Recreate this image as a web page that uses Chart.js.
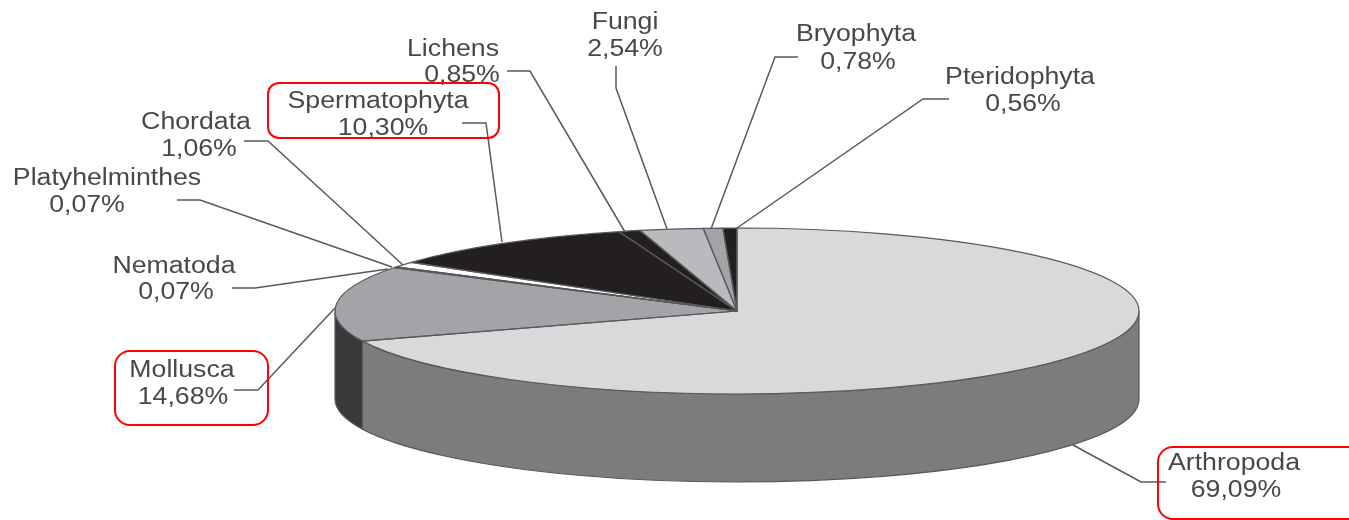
<!DOCTYPE html>
<html>
<head>
<meta charset="utf-8">
<style>
  html, body { margin: 0; padding: 0; background: #fff; overflow: hidden; }
  canvas { display: block; filter: blur(0.5px); }
</style>
<script src="https://cdn.jsdelivr.net/npm/chart.js@4"></script>
</head>
<body>
<canvas id="pie" width="1349" height="520"></canvas>
<script>
const categories = ['Arthropoda', 'Mollusca', 'Nematoda', 'Platyhelminthes', 'Chordata',
  'Spermatophyta', 'Lichens', 'Fungi', 'Bryophyta', 'Pteridophyta'];
const shares = [69.09, 14.68, 0.07, 0.07, 1.06, 10.30, 0.85, 2.54, 0.78, 0.56];
const topColors = ['#d9d9db', '#a3a4a7', '#a3a4a7', '#ffffff', '#ffffff',
  '#231f20', '#231f20', '#b9babd', '#a3a4a7', '#231f20'];
const sideColors = ['#7b7c7e', '#38393b', '#38393b', '#38393b', '#38393b',
  '#231f20', '#231f20', '#7b7c7e', '#7b7c7e', '#231f20'];

// where the tilted pie sits on the page
const tilt = { cx: 737, cy: 311, rx: 402, ry: 83, depth: 88 };
const lineColor = '#58595b';
const textColor = '#48484b';
const textStretch = 1.16; // the source picture is wider than it is tall

// [name x, name baseline, value x, value baseline], same order as categories
const labelPos = [
  [1234, 470, 1236, 497],
  [182, 377, 183, 404],
  [174, 273, 176, 299],
  [107, 185, 87, 212],
  [196, 129, 199, 156],
  [378, 108, 383, 135],
  [453, 56, 462, 82],
  [625, 29, 625, 56],
  [856, 41, 858, 69],
  [1020, 84, 1023, 111]
];
const leaders = [
  [[1166, 482], [1141, 482], [1073, 445]],
  [[234, 390], [258, 390], [335, 308]],
  [[232, 288], [255, 288], [388, 269]],
  [[177, 200], [200, 200], [392, 267]],
  [[244, 141], [268, 141], [403, 265]],
  [[462, 123], [486, 123], [502, 242]],
  [[507, 71], [530, 71], [625, 232]],
  [[616, 66], [616, 88], [667, 229]],
  [[798, 57], [775, 57], [711, 229]],
  [[949, 99], [923, 99], [737, 228]]
];
const redBoxes = [
  { x: 268, y: 83, w: 231, h: 55, r: 11 },
  { x: 115, y: 351, w: 153, h: 74, r: 15 },
  { x: 1158, y: 447, w: 220, h: 72, r: 15 }
];

function percentText(v) {
  return v.toFixed(2).replace('.', ',') + '%';
}

function wideText(ctx, text, x, y) {
  ctx.save();
  ctx.translate(x, y);
  ctx.scale(textStretch, 1);
  ctx.fillText(text, 0, 0);
  ctx.restore();
}

// puts the round pie of the library onto the tilted ellipse
function applyTilt(ctx, arc) {
  ctx.translate(tilt.cx, tilt.cy);
  ctx.scale(tilt.rx / arc.outerRadius, tilt.ry / arc.outerRadius);
  ctx.translate(-arc.x, -arc.y);
}

const tiltedPie = {
  id: 'tiltedPie',
  beforeDatasetDraw(chart) {
    const ctx = chart.ctx;
    const arcs = chart.getDatasetMeta(0).data;

    // side wall, only the part of each slice that faces the viewer
    arcs.forEach((arc, i) => {
      const a0 = Math.max(arc.startAngle, 0);
      const a1 = Math.min(arc.endAngle, Math.PI);
      if (a1 <= a0) return;
      ctx.beginPath();
      ctx.ellipse(tilt.cx, tilt.cy, tilt.rx, tilt.ry, 0, a0, a1);
      ctx.ellipse(tilt.cx, tilt.cy + tilt.depth, tilt.rx, tilt.ry, 0, a1, a0, true);
      ctx.closePath();
      ctx.fillStyle = sideColors[i];
      ctx.fill();
      ctx.strokeStyle = lineColor;
      ctx.lineWidth = 1.2;
      ctx.stroke();
    });

    ctx.save();
    applyTilt(ctx, arcs[0]);
  },
  afterDatasetDraw(chart) {
    const ctx = chart.ctx;
    ctx.restore();

    // slice outlines go here so that the squash does not distort the line width
    ctx.save();
    ctx.lineJoin = 'round';
    chart.getDatasetMeta(0).data.forEach(arc => {
      ctx.beginPath();
      ctx.moveTo(tilt.cx, tilt.cy);
      ctx.ellipse(tilt.cx, tilt.cy, tilt.rx, tilt.ry, 0, arc.startAngle, arc.endAngle);
      ctx.closePath();
      ctx.strokeStyle = lineColor;
      ctx.lineWidth = 1.2;
      ctx.stroke();
    });
    ctx.restore();
  },
  afterDraw(chart) {
    const ctx = chart.ctx;
    ctx.save();

    ctx.strokeStyle = lineColor;
    ctx.lineWidth = 1.5;
    leaders.forEach(pts => {
      ctx.beginPath();
      pts.forEach((p, i) => i ? ctx.lineTo(p[0], p[1]) : ctx.moveTo(p[0], p[1]));
      ctx.stroke();
    });

    ctx.fillStyle = textColor;
    ctx.font = '23px "Liberation Sans"';
    ctx.textAlign = 'center';
    ctx.textBaseline = 'alphabetic';
    categories.forEach((name, i) => {
      const p = labelPos[i];
      wideText(ctx, name, p[0], p[1]);
      wideText(ctx, percentText(shares[i]), p[2], p[3]);
    });

    ctx.strokeStyle = '#ff0000';
    ctx.lineWidth = 2;
    redBoxes.forEach(b => {
      ctx.beginPath();
      ctx.roundRect(b.x, b.y, b.w, b.h, b.r);
      ctx.stroke();
    });
    ctx.restore();
  }
};

new Chart(document.getElementById('pie').getContext('2d'), {
  type: 'pie',
  data: {
    labels: categories,
    datasets: [{
      data: shares,
      backgroundColor: topColors,
      borderWidth: 0,
      clip: false
    }]
  },
  options: {
    responsive: false,
    animation: false,
    plugins: {
      legend: { display: false },
      tooltip: { enabled: false }
    }
  },
  plugins: [tiltedPie]
});
</script>
</body>
</html>
